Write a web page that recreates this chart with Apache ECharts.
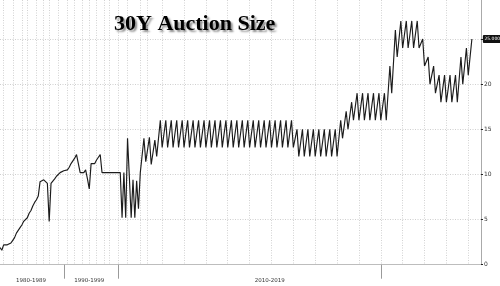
<!DOCTYPE html>
<html><head><meta charset="utf-8">
<script src="https://cdn.jsdelivr.net/npm/echarts@6/dist/echarts.min.js"></script>
<style>html,body{margin:0;padding:0;background:#fff}#c{width:500px;height:286px}</style>
</head><body><div id="c"></div>
<script>
const chartTitle = '30Y Auction Size';
// auction sizes ($bn), one value per auction, in order
const sizesTo1989 = [1.9,1.6,2.2,2.2,2.2,2.1,2.4,2.7,3.0,3.5,3.8,4.1,4.4,4.8,5.0,5.2,5.7,6.0,6.5,6.9,7.2,7.6,9.2,9.3,9.4,9.3,9.0,4.8,9.0,9.1,9.5,9.8,10.0,10.2,10.3];
const sizes1990s = [10.4,10.5,10.5,10.8,11.2,11.5,11.8,12.2,12.2,10.2,10.2,10.2,10.5,9.5,8.4,11.2,11.2,11.2,11.6,11.9,12.2,10.2,10.2,10.2,10.2,10.2,10.2,10.2,10.2,10.2,10.2,10.2];
const sizes2000s = [5.2,10.2,5.2,14.0,9.7,5.2,9.4,5.2,9.3,6.2,10.2,10.2,14.0,11.4,11.4,14.1,11.1,11.1,13.8,12.0,12.0];
const sizes2010s = [
 16,13,13,16,13,13,16,13,13,16,13,13,16,13,13,16,13,13,16,13,13,16,13,13,16,13,13,16,13,13,
 16,13,13,16,13,13,16,13,13,16,13,13,16,13,13,16,13,13,16,13,13,16,13,13,16,13,13,16,13,13,
 16,13,13,16,13,13,16,13,13,16,13,13,16,13,13,
 15,12,12,15,12,12,15,12,12,15,12,12,15,12,12,15,12,12,15,12,12,15,12,12,
 16,14,14,17,15,15,18,16,16,
 19,16,16,19,16,16,19,16,16,19,16,16,19,16,16,19,16,16];
const sizes2020s = [22,19,19,26,23,23,27,24,24,27,24,24,27,24,24,27,24,24,25,22,22,23,20,20,22,19,19,
 21,18,18,21,18,18,21,18,18,21,18,18,23,20,20,24,21,21,25];
const values = [].concat(sizesTo1989, sizes1990s, sizes2000s, sizes2010s, sizes2020s);
const emptySlots = 5;
const categories = values.map((v, i) => String(i)).concat(Array.from({length: emptySlots}, (_, k) => String(values.length + k)));
const seriesData = values.concat(Array(emptySlots).fill(null));
// x-axis: decade labels, decade separators, yearly grid lines (auction index)
const decadeLabels = {17: '1980-1989', 49: '1990-1999', 148: '2010-2019'};
const decadeSeparators = [35, 65, 209];
const yearLines = [2,7,12,15,20,24,27,32,37,41,45,49,53,57,60,65,70,77,81,89,101,113,125,137,149,161,173,185,197,209,221,233,245,257];
const yTicks = {min: 0, max: 29.32, step: 5};

const chart = echarts.init(document.getElementById('c'), null, {renderer: 'canvas'});
chart.setOption({
  animation: false,
  backgroundColor: '#fff',
  title: {
    text: chartTitle, left: 109, top: 8,
    textStyle: {fontFamily: '"Liberation Serif", serif', fontWeight: 'bold', fontSize: 22, color: '#000',
      textShadowColor: 'rgba(0,0,0,0.45)', textShadowBlur: 2, textShadowOffsetX: 2, textShadowOffsetY: 2}
  },
  grid: {left: 0, right: 19, top: 0, bottom: 21.3, containLabel: false},
  xAxis: {
    type: 'category', data: categories, boundaryGap: false, offset: 7.3,
    axisLine: {show: true, lineStyle: {color: '#bdbdbd', width: 1}},
    axisTick: {show: true, length: 14, lineStyle: {color: '#9a9a9a'},
      interval: (i) => decadeSeparators.includes(i)},
    axisLabel: {show: true, interval: (i) => decadeLabels[i] !== undefined,
      formatter: (v, i) => decadeLabels[i] || '', fontSize: 5.5, color: '#333', margin: 6,
      fontFamily: 'DejaVu Sans'},
    splitLine: {show: true, interval: (i) => yearLines.includes(i),
      lineStyle: {color: '#d2d2d2', type: [1, 1.5], width: 1}}
  },
  yAxis: {
    type: 'value', position: 'right', min: yTicks.min, max: yTicks.max, interval: yTicks.step,
    axisLine: {show: true, lineStyle: {color: '#aaa'}},
    axisTick: {show: true, length: 2, lineStyle: {color: '#222'}},
    axisLabel: {fontSize: 6, color: '#333', margin: 3, fontFamily: 'DejaVu Sans', showMaxLabel: false,
      formatter: (v) => (v % yTicks.step === 0 ? String(v) : '')},
    splitLine: {show: true, showMaxLine: false, lineStyle: {color: '#cfcfcf', type: [1, 1.5], width: 1}}
  },
  series: [{
    type: 'line', data: seriesData, showSymbol: false, connectNulls: false,
    lineStyle: {color: '#1c1c1c', width: 1.15},
    endLabel: {show: true, formatter: (p) => Number(p.value).toFixed(3), distance: 11,
      backgroundColor: '#111', color: '#fff', fontSize: 4.5, padding: [1.5, 1.5], borderRadius: 1,
      fontFamily: 'DejaVu Sans'}
  }]
});
</script></body></html>
